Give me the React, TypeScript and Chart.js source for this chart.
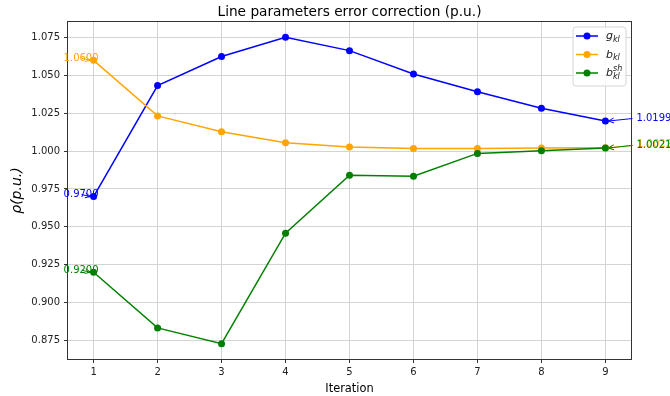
import React, { useEffect, useRef } from "react";
import { Chart, registerables } from "chart.js";
Chart.register(...registerables);

const iterations = [1, 2, 3, 4, 5, 6, 7, 8, 9];
const gKl = [0.97, 1.0433, 1.0625, 1.0752, 1.0664, 1.051, 1.0393, 1.0283, 1.0199];
const bKl = [1.06, 1.0233, 1.0128, 1.0056, 1.0028, 1.0018, 1.0018, 1.002, 1.0022];
const bShKl = [0.92, 0.8832, 0.8728, 0.9458, 0.9841, 0.9834, 0.9985, 1.0002, 1.0021];
const yTicks = [0.875, 0.9, 0.925, 0.95, 0.975, 1.0, 1.025, 1.05, 1.075];
const xTicks = [1, 2, 3, 4, 5, 6, 7, 8, 9];

const COLORS = { g: "#0000ff", b: "#ffa500", sh: "#008000" };
const FONT = '"DejaVu Sans", sans-serif';

const allY = [...gKl, ...bKl, ...bShKl];
const yMinD = Math.min(...allY);
const yMaxD = Math.max(...allY);
const yPad = (yMaxD - yMinD) * 0.05;
const xMinD = Math.min(...iterations);
const xMaxD = Math.max(...iterations);
const xPad = (xMaxD - xMinD) * 0.05;

const seriesList = [
  { key: "g", data: gKl, color: COLORS.g },
  { key: "b", data: bKl, color: COLORS.b },
  { key: "sh", data: bShKl, color: COLORS.sh },
];

function arrowHead(ctx: CanvasRenderingContext2D, fx: number, fy: number, tx: number, ty: number) {
  const ang = Math.atan2(ty - fy, tx - fx);
  const L = 6;
  const a = 0.42;
  ctx.beginPath();
  ctx.moveTo(tx - L * Math.cos(ang - a), ty - L * Math.sin(ang - a));
  ctx.lineTo(tx, ty);
  ctx.lineTo(tx - L * Math.cos(ang + a), ty - L * Math.sin(ang + a));
  ctx.stroke();
}

const decoPlugin = {
  id: "deco",
  afterDatasetsDraw(chart: any) {
    const { ctx, chartArea: ca } = chart;
    ctx.save();
    ctx.strokeStyle = "#333";
    ctx.lineWidth = 1;
    ctx.strokeRect(Math.round(ca.left) - 0.5, Math.round(ca.top) - 0.5, Math.round(ca.right - ca.left) + 1, Math.round(ca.bottom - ca.top) + 1);
    ctx.restore();
  },
  afterDraw(chart: any) {
    const { ctx, chartArea: ca } = chart;
    const xs = chart.scales.x;
    const ys = chart.scales.y;
    ctx.save();
    // Title
    ctx.fillStyle = "#000";
    ctx.font = `13.7px ${FONT}`;
    ctx.textAlign = "center";
    ctx.textBaseline = "middle";
    ctx.fillText("Line parameters error correction (p.u.)", (ca.left + ca.right) / 2, 12);
    // X title
    ctx.font = `11.4px ${FONT}`;
    ctx.fillText("Iteration", (ca.left + ca.right) / 2, 389);
    // Y title
    ctx.save();
    ctx.translate(17.5, (ca.top + ca.bottom) / 2);
    ctx.rotate(-Math.PI / 2);
    ctx.font = `italic 14px ${FONT}`;
    ctx.fillText("ρ(p.u.)", 0, 0);
    ctx.restore();

    // Annotations
    ctx.font = `10px ${FONT}`;
    ctx.textBaseline = "middle";
    ctx.textAlign = "left";
    ctx.lineWidth = 1;
    seriesList.forEach((s) => {
      const n = s.data.length;
      const px0 = xs.getPixelForValue(iterations[0]);
      const py0 = ys.getPixelForValue(s.data[0]);
      ctx.strokeStyle = s.color;
      ctx.fillStyle = s.color;
      ctx.beginPath();
      ctx.moveTo(px0 - 12, py0 - 2);
      ctx.lineTo(px0 - 3, py0);
      ctx.stroke();
      arrowHead(ctx, px0 - 12, py0 - 2, px0 - 3, py0);
      ctx.fillText(s.data[0].toFixed(4), px0 - 30, py0 - 2);
      const pxn = xs.getPixelForValue(iterations[n - 1]);
      const pyn = ys.getPixelForValue(s.data[n - 1]);
      const tx = pxn + 31 + (s.key === "b" ? 0.6 : 0);
      const ty = pyn - 3;
      ctx.beginPath();
      ctx.moveTo(tx - 4, ty + 0.5);
      ctx.lineTo(pxn + 3, pyn);
      ctx.stroke();
      arrowHead(ctx, tx - 4, ty + 0.5, pxn + 3, pyn);
      ctx.fillText(s.data[n - 1].toFixed(4), tx, ty);
    });

    // Legend
    const lx = ca.right - 58;
    const ly = ca.top + 5;
    const lw = 53;
    const lh = 59;
    ctx.beginPath();
    const r = 3;
    ctx.moveTo(lx + r, ly);
    ctx.lineTo(lx + lw - r, ly);
    ctx.quadraticCurveTo(lx + lw, ly, lx + lw, ly + r);
    ctx.lineTo(lx + lw, ly + lh - r);
    ctx.quadraticCurveTo(lx + lw, ly + lh, lx + lw - r, ly + lh);
    ctx.lineTo(lx + r, ly + lh);
    ctx.quadraticCurveTo(lx, ly + lh, lx, ly + lh - r);
    ctx.lineTo(lx, ly + r);
    ctx.quadraticCurveTo(lx, ly, lx + r, ly);
    ctx.closePath();
    ctx.fillStyle = "rgba(255,255,255,0.8)";
    ctx.fill();
    ctx.strokeStyle = "#d6d6d6";
    ctx.lineWidth = 1;
    ctx.stroke();

    const rowsY = [ly + 9, ly + 27.5, ly + 46];
    seriesList.forEach((s, i) => {
      const y = rowsY[i];
      ctx.strokeStyle = s.color;
      ctx.lineWidth = 1.5;
      ctx.beginPath();
      ctx.moveTo(lx + 3, y);
      ctx.lineTo(lx + 25, y);
      ctx.stroke();
      ctx.fillStyle = s.color;
      ctx.beginPath();
      ctx.arc(lx + 14, y, 3.5, 0, Math.PI * 2);
      ctx.fill();
      ctx.fillStyle = "#222";
      ctx.textAlign = "left";
      ctx.textBaseline = "alphabetic";
      const tx = lx + 33;
      const base = y + 3;
      ctx.font = `italic 11px ${FONT}`;
      const main = s.key === "g" ? "g" : "b";
      ctx.fillText(main, tx, base);
      const w = ctx.measureText(main).width;
      ctx.font = `italic 8px ${FONT}`;
      ctx.fillText("kl", tx + w, base + 2.5);
      if (s.key === "sh") {
        ctx.fillText("sh", tx + w, base - 5);
      }
    });
    ctx.restore();
  },
};

export default function App() {
  const ref = useRef<HTMLCanvasElement>(null);
  useEffect(() => {
    document.body.style.margin = "0";
    const canvas = ref.current!;
    const chart = new Chart(canvas, {
      type: "line",
      data: {
        datasets: seriesList.map((s, i) => ({
          label: s.key,
          data: iterations.map((x, j) => ({ x, y: s.data[j] })),
          borderColor: s.color,
          backgroundColor: s.color,
          pointBackgroundColor: s.color,
          pointBorderWidth: 0,
          pointRadius: 3.5,
          borderWidth: 1.5,
          fill: false,
          tension: 0,
          order: 2 - i,
        })),
      },
      options: {
        responsive: false,
        animation: false,
        devicePixelRatio: 1,
        layout: { padding: { top: 22, right: 39, left: 0, bottom: 0 } },
        plugins: {
          legend: { display: false },
          title: { display: false },
          tooltip: { enabled: false },
        },
        scales: {
          x: {
            type: "linear",
            min: xMinD - xPad,
            max: xMaxD + xPad,
            afterBuildTicks: (s: any) => {
              s.ticks = xTicks.map((v) => ({ value: v }));
            },
            afterFit: (s: any) => {
              s.height = 37;
            },
            ticks: {
              font: { family: FONT, size: 10 },
              color: "#222",
              padding: 3,
              maxRotation: 0,
              autoSkip: false,
              callback: (v: any) => String(v),
            },
            grid: {
              color: "#d4d4d4",
              lineWidth: 1,
              drawTicks: true,
              tickLength: 4,
              tickColor: "#333",
            },
            border: { display: false },
          },
          y: {
            type: "linear",
            min: yMinD - yPad,
            max: yMaxD + yPad,
            afterBuildTicks: (s: any) => {
              s.ticks = yTicks.map((v) => ({ value: v }));
            },
            afterFit: (s: any) => {
              s.width = 68;
            },
            ticks: {
              font: { family: FONT, size: 10 },
              color: "#222",
              padding: 4,
              autoSkip: false,
              callback: (v: any) => Number(v).toFixed(3),
            },
            grid: {
              color: "#d4d4d4",
              lineWidth: 1,
              drawTicks: true,
              tickLength: 4,
              tickColor: "#333",
            },
            border: { display: false },
          },
        },
      },
      plugins: [decoPlugin],
    } as any);
    return () => chart.destroy();
  }, []);
  return (
    <div style={{ width: 670, height: 396 }}>
      <canvas ref={ref} width={670} height={396} style={{ display: "block", width: 670, height: 396 }} />
    </div>
  );
}
